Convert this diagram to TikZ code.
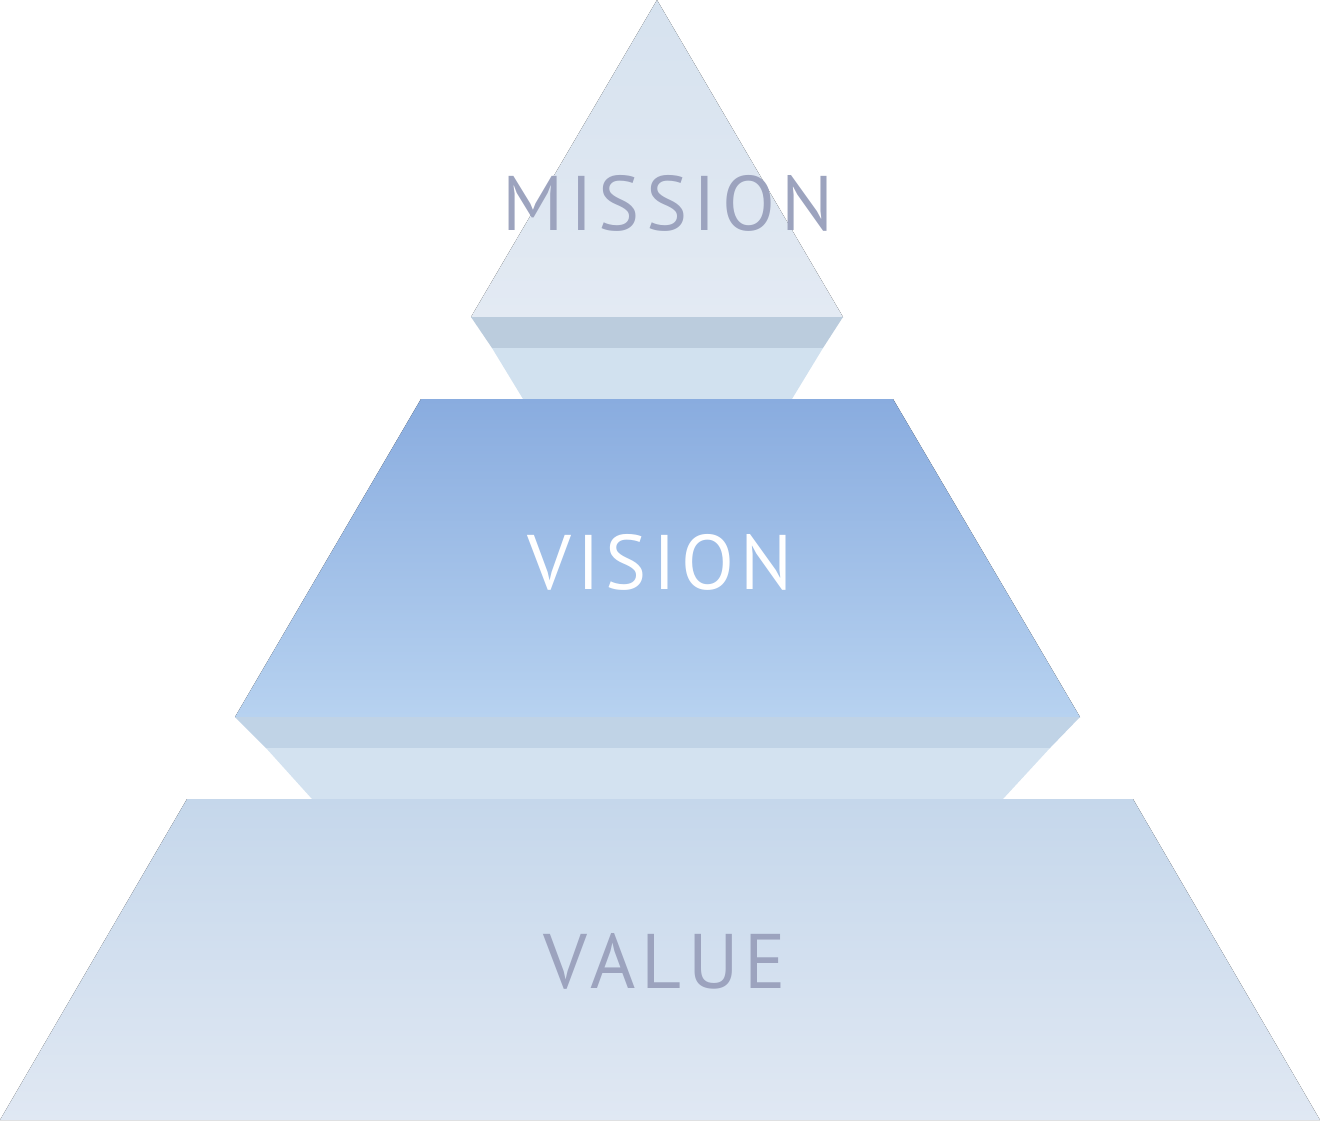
\documentclass[tikz,border=0pt]{standalone}
\usepackage{fontspec}
\setmainfont{PT Sans}[LetterSpace=8]
\begin{document}
\begin{tikzpicture}[x=0.01cm,y=-0.01cm]
\definecolor{txt}{HTML}{9CA3BE}
\definecolor{c1}{HTML}{D6E2EF}\definecolor{c2}{HTML}{E3EAF3}
\definecolor{b1}{HTML}{BBCCDD}\definecolor{n1}{HTML}{D1E1EF}
\definecolor{v1}{HTML}{89ACDF}\definecolor{v2}{HTML}{B7D2F0}
\definecolor{b2}{HTML}{C0D3E6}\definecolor{n2}{HTML}{D3E2F0}
\definecolor{w1}{HTML}{C5D7EB}\definecolor{w2}{HTML}{E0E8F3}
\tikzset{lbl/.style={font=\fontsize{22}{24}\selectfont}}
\useasboundingbox (0,0) rectangle (1320,1120);
\fill[top color=c1,bottom color=c2] (657,0) -- (843,317) -- (471,317) -- cycle;
\fill[b1] (471,317) -- (843,317) -- (823,348) -- (492,348) -- cycle;
\fill[n1] (492,348) -- (823,348) -- (792,399) -- (523,399) -- cycle;
\fill[top color=v1,bottom color=v2] (421,399) -- (893,399) -- (1080,717) -- (235,717) -- cycle;
\fill[b2] (235,717) -- (1080,717) -- (1050,748) -- (266,748) -- cycle;
\fill[n2] (266,748) -- (1050,748) -- (1003,799) -- (312,799) -- cycle;
\fill[top color=w1,bottom color=w2] (187,799) -- (1133,799) -- (1320,1120) -- (0,1120) -- cycle;
\node[lbl,text=txt] (m) at (668,203) {MISSION};
\node[lbl,text=white] (v) at (660,562) {VISION};
\node[lbl,text=txt] (va) at (665,961) {VALUE};
\end{tikzpicture}
\end{document}
